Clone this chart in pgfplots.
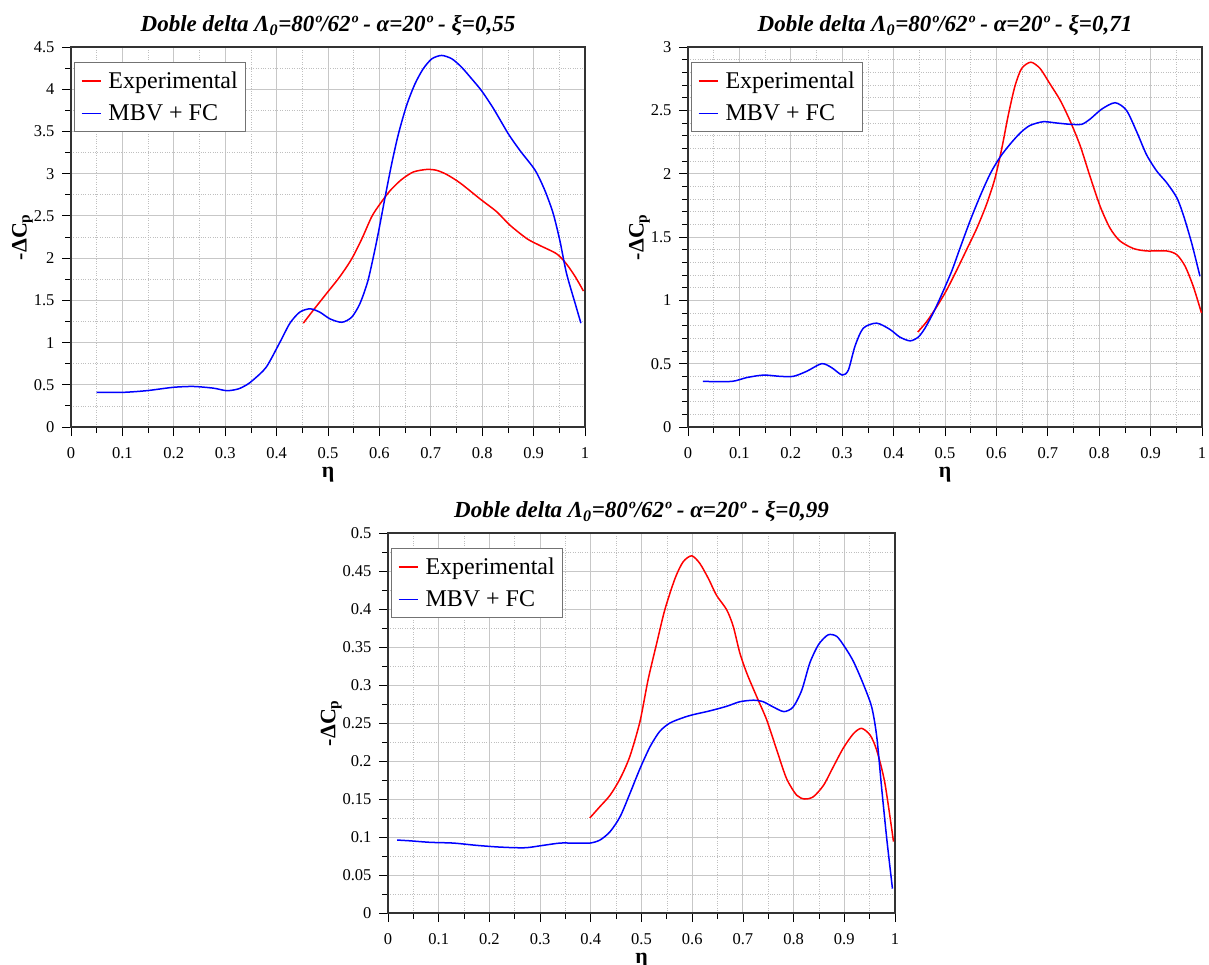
\documentclass[border=0pt]{standalone}
\usepackage{fontspec}
\setmainfont{Liberation Serif}
\usepackage{pgfplots}
\pgfplotsset{compat=1.18}
\pgfplotsset{legend image code/.code={\draw[#1, line width=1.8pt] (0pt,0pt) -- (19pt,0pt); \path[draw=none, fill=none] (0pt,0pt) -- (25pt,0pt);}}
\pgfplotsset{
  cpstyle/.style={
    scale only axis,
    anchor=south west,
    xmin=0, xmax=1, ymin=0,
    axis background/.style={fill=white},
    tick pos=left,
    tick align=outside,
    major tick length=9pt,
    minor tick length=6pt,
    every tick/.style={black, line width=0.8pt},
    axis line style={black!80, line width=1.2pt},
    grid=both,
    major grid style={black!22, line width=0.9pt},
    minor grid style={black!25, dotted, line width=0.7pt},
    xtick={0,0.1,...,1.01},
    xticklabels={0,0.1,0.2,0.3,0.4,0.5,0.6,0.7,0.8,0.9,1},
    minor x tick num=1,
    tick label style={font=\fontsize{16.5}{18}\selectfont},
    xticklabel style={inner sep=1pt, yshift=-10pt},
    yticklabel style={xshift=-4pt},
    /pgf/number format/assume math mode=true,
    xlabel={\textbf{η}},
    ylabel={\textbf{-ΔC\textsubscript{p}}},
    label style={font=\fontsize{22}{24}\selectfont},
    xlabel style={inner sep=0pt, yshift=-8pt},
    ylabel style={yshift=-6pt},
    title style={font=\fontsize{23}{26}\selectfont\bfseries\itshape, at={(0.5,1)}, anchor=center, yshift=15pt},
    legend style={at={(0,1)}, anchor=north west, xshift=3pt, yshift=-15pt,
      draw=black!55, line width=1.2pt, fill=white,
      font=\fontsize{24}{28}\selectfont, inner xsep=6pt, inner ysep=7pt,
      row sep=11pt},
    legend cell align=left,
    every axis plot/.append style={line width=1.5pt, smooth, tension=0.45},
  }
}
\begin{document}
\begin{tikzpicture}
\useasboundingbox (0pt,0pt) rectangle (1209pt,-965pt);

\begin{axis}[cpstyle, at={(71pt,-427pt)}, width=514pt, height=380pt,
  ymax=4.5, ytick={0,0.5,...,4.51},
  yticklabels={0,0.5,1,1.5,2,2.5,3,3.5,4,4.5}, minor y tick num=1,
  title={Doble delta Λ\textsubscript{0}=80º/62º - α=20º - ξ=0,55}]
\addplot[color=red, draw=red] coordinates {(0.452,1.23)(0.471,1.38)(0.497,1.58)(0.523,1.78)(0.546,1.99)(0.566,2.23)(0.585,2.49)(0.601,2.64)(0.621,2.80)(0.643,2.93)(0.666,3.02)(0.692,3.05)(0.711,3.04)(0.731,2.99)(0.757,2.89)(0.796,2.70)(0.828,2.55)(0.854,2.39)(0.887,2.23)(0.912,2.15)(0.945,2.05)(0.964,1.93)(0.981,1.78)(0.997,1.61)};
\addlegendentry{Experimental}
\addplot[color=blue, draw=blue] coordinates {(0.05,0.41)(0.10,0.41)(0.147,0.43)(0.199,0.47)(0.238,0.48)(0.277,0.46)(0.303,0.43)(0.325,0.45)(0.342,0.50)(0.355,0.56)(0.38,0.71)(0.407,1.01)(0.426,1.23)(0.445,1.36)(0.465,1.40)(0.484,1.36)(0.504,1.28)(0.527,1.24)(0.546,1.30)(0.562,1.46)(0.578,1.74)(0.595,2.21)(0.611,2.72)(0.624,3.12)(0.637,3.47)(0.653,3.81)(0.669,4.06)(0.685,4.24)(0.702,4.36)(0.721,4.40)(0.741,4.36)(0.760,4.26)(0.780,4.12)(0.799,3.98)(0.822,3.77)(0.851,3.47)(0.874,3.27)(0.903,3.04)(0.922,2.80)(0.938,2.53)(0.951,2.21)(0.964,1.82)(0.981,1.46)(0.992,1.23)};
\addlegendentry{MBV + FC}
\end{axis}

\begin{axis}[cpstyle, at={(688pt,-427pt)}, width=514pt, height=380pt,
  ymax=3, ytick={0,0.5,...,3.01},
  yticklabels={0,0.5,1,1.5,2,2.5,3}, minor y tick num=4,
  title={Doble delta Λ\textsubscript{0}=80º/62º - α=20º - ξ=0,71}]
\addplot[color=red, draw=red] coordinates {(0.447,0.75)(0.464,0.83)(0.484,0.95)(0.503,1.08)(0.523,1.24)(0.542,1.40)(0.562,1.57)(0.581,1.76)(0.597,1.96)(0.610,2.19)(0.623,2.46)(0.636,2.69)(0.649,2.83)(0.667,2.88)(0.685,2.83)(0.704,2.71)(0.724,2.58)(0.743,2.42)(0.763,2.22)(0.782,1.98)(0.802,1.74)(0.821,1.57)(0.840,1.47)(0.866,1.41)(0.892,1.39)(0.931,1.39)(0.951,1.36)(0.967,1.27)(0.983,1.11)(0.999,0.90)};
\addlegendentry{Experimental}
\addplot[color=blue, draw=blue] coordinates {(0.029,0.36)(0.085,0.36)(0.114,0.39)(0.147,0.41)(0.179,0.40)(0.205,0.40)(0.231,0.44)(0.260,0.50)(0.279,0.47)(0.300,0.41)(0.312,0.45)(0.325,0.64)(0.341,0.78)(0.367,0.82)(0.393,0.77)(0.412,0.71)(0.432,0.68)(0.448,0.71)(0.461,0.78)(0.477,0.90)(0.494,1.05)(0.513,1.23)(0.529,1.41)(0.549,1.63)(0.568,1.82)(0.588,2.00)(0.607,2.13)(0.626,2.23)(0.646,2.32)(0.665,2.38)(0.691,2.41)(0.717,2.40)(0.743,2.39)(0.766,2.39)(0.782,2.43)(0.805,2.51)(0.831,2.56)(0.853,2.50)(0.873,2.33)(0.892,2.15)(0.912,2.02)(0.931,1.93)(0.951,1.81)(0.964,1.67)(0.980,1.45)(0.996,1.19)};
\addlegendentry{MBV + FC}
\end{axis}

\begin{axis}[cpstyle, at={(388pt,-913pt)}, width=507pt, height=380pt,
  ymax=0.5, ytick={0,0.05,...,0.501},
  yticklabels={0,0.05,0.1,0.15,0.2,0.25,0.3,0.35,0.4,0.45,0.5}, minor y tick num=1,
  title={Doble delta Λ\textsubscript{0}=80º/62º - α=20º - ξ=0,99}]
\addplot[color=red, draw=red] coordinates {(0.398,0.125)(0.418,0.140)(0.438,0.155)(0.458,0.177)(0.477,0.206)(0.497,0.252)(0.513,0.307)(0.530,0.355)(0.546,0.399)(0.566,0.440)(0.582,0.462)(0.599,0.470)(0.615,0.460)(0.632,0.440)(0.648,0.418)(0.668,0.399)(0.681,0.377)(0.694,0.342)(0.708,0.315)(0.727,0.285)(0.747,0.254)(0.767,0.214)(0.786,0.177)(0.806,0.155)(0.822,0.150)(0.839,0.153)(0.859,0.168)(0.878,0.192)(0.898,0.217)(0.918,0.236)(0.934,0.243)(0.951,0.234)(0.964,0.214)(0.980,0.171)(0.997,0.094)};
\addlegendentry{Experimental}
\addplot[color=blue, draw=blue] coordinates {(0.018,0.096)(0.043,0.095)(0.083,0.093)(0.129,0.092)(0.175,0.089)(0.214,0.087)(0.247,0.086)(0.274,0.086)(0.306,0.089)(0.339,0.092)(0.365,0.092)(0.398,0.092)(0.418,0.096)(0.438,0.107)(0.458,0.127)(0.477,0.157)(0.497,0.190)(0.517,0.219)(0.536,0.239)(0.556,0.250)(0.582,0.257)(0.602,0.261)(0.635,0.266)(0.668,0.272)(0.694,0.278)(0.721,0.280)(0.740,0.278)(0.760,0.271)(0.781,0.265)(0.799,0.271)(0.816,0.293)(0.832,0.329)(0.849,0.353)(0.868,0.366)(0.885,0.364)(0.901,0.350)(0.918,0.331)(0.937,0.302)(0.954,0.271)(0.964,0.232)(0.974,0.162)(0.984,0.096)(0.995,0.032)};
\addlegendentry{MBV + FC}
\end{axis}
\end{tikzpicture}
\end{document}
